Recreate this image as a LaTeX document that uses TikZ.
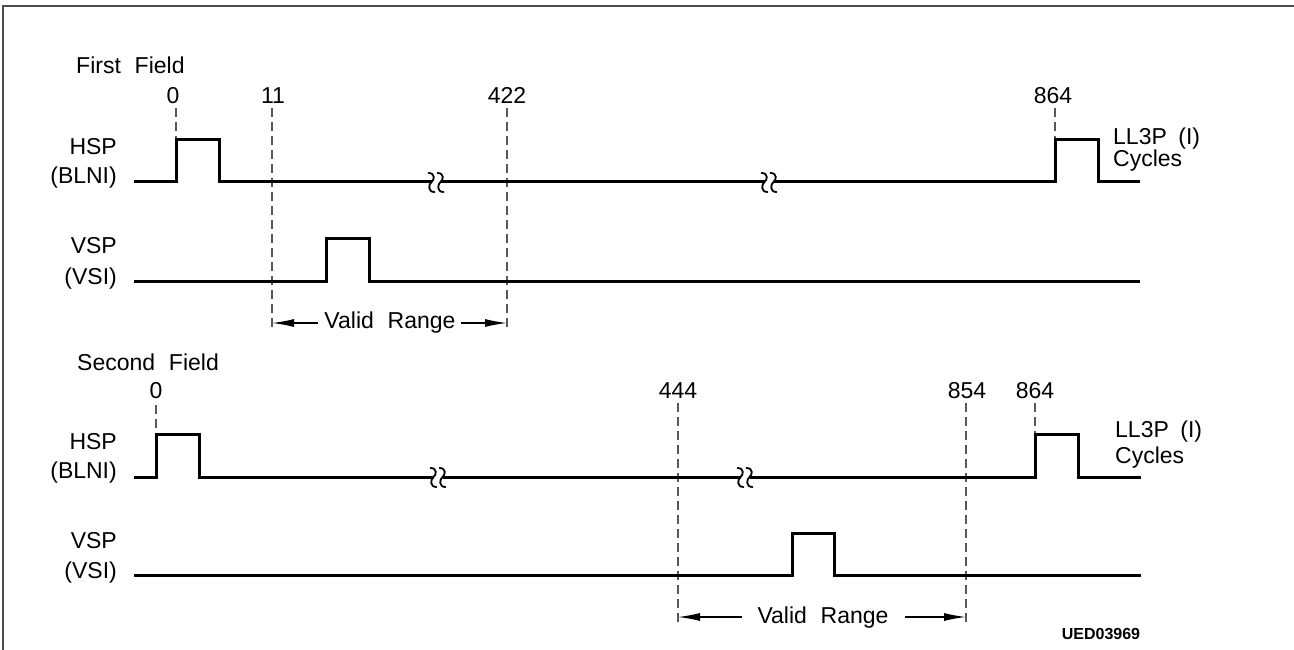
\documentclass[tikz,border=0pt]{standalone}
\usepackage{fontspec}
\setmainfont{Liberation Sans}
\usetikzlibrary{arrows.meta}
\newcommand\squigglyph[2]{%
  \draw[line width=1.8pt, line cap=round] (#1-3,#2-9) .. controls (#1+4,#2-9) and (#1+3,#2-2) .. (#1,#2) .. controls (#1-3,#2+2) and (#1-4,#2+10) .. (#1+3,#2+10);
}
\newcommand\squigmark[2]{%
  \squigglyph{#1-4.5}{#2}
  \squigglyph{#1+4.5}{#2}
}
\begin{document}
\begin{tikzpicture}[x=1pt,y=-1pt,
  sig/.style={line width=3pt, line join=miter, line cap=butt},
  guide/.style={line width=1.2pt, black!65, dash pattern=on 9pt off 5pt},
  lbl/.style={inner sep=0pt, font=\fontsize{23}{27}\selectfont},
  rng/.style={line width=1.3pt, -{Latex[length=22pt,width=8pt]}},
]
\useasboundingbox (0,0) rectangle (1294,650);
\draw[line width=2pt, black!70] (3,650) -- (3,6) -- (1294,6);

% ---------- First field ----------
\node[lbl, anchor=base west] (ff) at (76,74) {First\hspace{0.6em}Field};
\node[lbl, anchor=base] (fa0) at (173,104) {0};
\node[lbl, anchor=base] (fa11) at (273,104) {11};
\node[lbl, anchor=base] (fa422) at (507,104) {422};
\node[lbl, anchor=base] (fa864) at (1053,104) {864};

\node[lbl, anchor=base east] (fhsp) at (117,155) {HSP};
\node[lbl, anchor=base east] (fblni) at (117,183) {(BLNI)};
\node[lbl, anchor=base east] (fvsp) at (117,253) {VSP};
\node[lbl, anchor=base east] (fvsi) at (117,284) {(VSI)};
\node[lbl, anchor=base west] (fll) at (1113,145) {LL3P\hspace{0.5em}(I)};
\node[lbl, anchor=base west] (fcy) at (1113,167) {Cycles};

\draw[guide] (176,108) -- (176,140);
\draw[guide] (1055,108) -- (1055,140);
\draw[guide] (272,108) -- (272,328);
\draw[guide] (507,108) -- (507,328);

\draw[sig] (134,182) -- (176,182) -- (176,140) -- (219,140) -- (219,182) -- (431.5,182);
\draw[sig] (440.5,182) -- (764.5,182);
\draw[sig] (773.5,182) -- (1055,182) -- (1055,140) -- (1098,140) -- (1098,182) -- (1140,182);
\squigmark{436}{182}
\squigmark{769}{182}

\draw[sig] (134,281) -- (326,281) -- (326,238) -- (369,238) -- (369,281) -- (1140,281);

\node[lbl, anchor=base] (fvr) at (390,328) {Valid\hspace{0.6em}Range};
\coordinate (fl11) at (272,323);
\coordinate (fl422) at (507,323);
\coordinate (fvrl) at (318,323);
\coordinate (fvrr) at (461,323);
\draw[rng] (fvrl) -- (fl11);
\draw[rng] (fvrr) -- (fl422);

% ---------- Second field ----------
\node[lbl, anchor=base west] (sf) at (77,370) {Second\hspace{0.6em}Field};
\node[lbl, anchor=base] (sa0) at (156,398) {0};
\node[lbl, anchor=base] (sa444) at (678,398) {444};
\node[lbl, anchor=base] (sa854) at (967,398) {854};
\node[lbl, anchor=base] (sa864) at (1035,398) {864};

\node[lbl, anchor=base east] (shsp) at (117,449) {HSP};
\node[lbl, anchor=base east] (sblni) at (117,478) {(BLNI)};
\node[lbl, anchor=base east] (svsp) at (117,548) {VSP};
\node[lbl, anchor=base east] (svsi) at (117,578) {(VSI)};
\node[lbl, anchor=base west] (sll) at (1115,437) {LL3P\hspace{0.5em}(I)};
\node[lbl, anchor=base west] (scy) at (1115,463) {Cycles};

\draw[guide] (156,405) -- (156,434);
\draw[guide] (1035,403) -- (1035,434);
\draw[guide] (678,403) -- (678,623);
\draw[guide] (966,403) -- (966,623);

\draw[sig] (134,477) -- (156,477) -- (156,434) -- (199,434) -- (199,477) -- (433.5,477);
\draw[sig] (442.5,477) -- (740.5,477);
\draw[sig] (749.5,477) -- (1035,477) -- (1035,434) -- (1078,434) -- (1078,477) -- (1141,477);
\squigmark{438}{477}
\squigmark{745}{477}

\draw[sig] (134,575) -- (792,575) -- (792,533) -- (834,533) -- (834,575) -- (1141,575);

\node[lbl, anchor=base] (svr) at (823,623) {Valid\hspace{0.6em}Range};
\coordinate (sl444) at (678,617);
\coordinate (sl854) at (966,617);
\coordinate (svrl) at (742,617);
\coordinate (svrr) at (905,617);
\draw[rng] (svrl) -- (sl444);
\draw[rng] (svrr) -- (sl854);

\node[inner sep=0pt, anchor=base, font=\fontsize{16}{18}\selectfont\bfseries] (code) at (1101,639) {UED03969};
\end{tikzpicture}
\end{document}
